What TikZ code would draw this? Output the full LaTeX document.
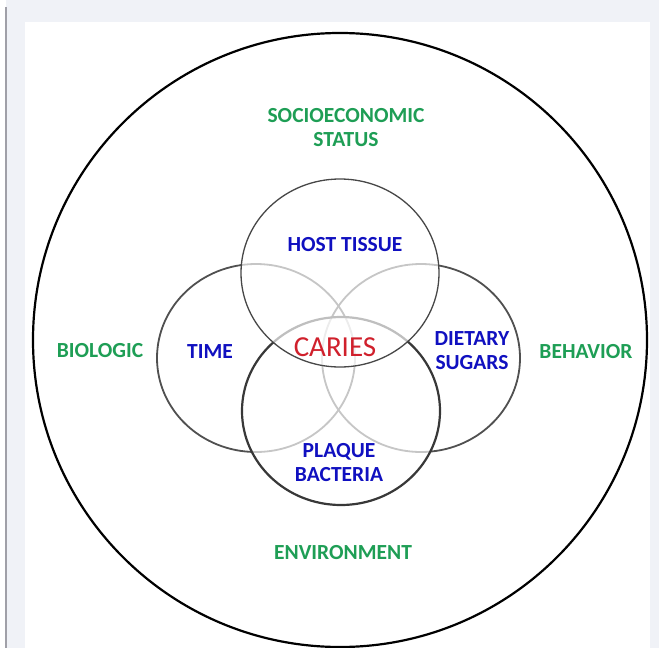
\documentclass[tikz,border=0pt]{standalone}
\usepackage{fontspec}
\setmainfont{Carlito}
\usetikzlibrary{shapes.geometric}
\definecolor{panelgray}{HTML}{F0F2F7}
\definecolor{edgegray}{HTML}{A0A0A8}
\definecolor{factorgreen}{HTML}{1E9E55}
\definecolor{factorblue}{HTML}{1010C0}
\definecolor{cariesred}{HTML}{D0202C}
\definecolor{ringgray}{HTML}{505050}
\begin{document}
\begin{tikzpicture}[x=1pt,y=-1pt,
  outerring/.style={circle,draw=black,line width=2.2pt,minimum size=614pt,inner sep=0pt},
  factorring/.style={ellipse,minimum width=198pt,minimum height=188pt,inner sep=0pt},
  sidering/.style={factorring,draw=ringgray,line width=1.8pt},
  veilring/.style={factorring,fill=white,fill opacity=0.68},
  greenlabel/.style={font=\bfseries\fontsize{21.5}{24}\selectfont,text=factorgreen,align=center},
  bluelabel/.style={font=\bfseries\fontsize{21.5}{24}\selectfont,text=factorblue,align=center},
  cariestext/.style={font=\fontsize{29}{32}\selectfont,text=cariesred}]
  \useasboundingbox (0,0) rectangle (659,648);
  % page frame
  \fill[panelgray] (6,0) rectangle (659,648);
  \draw[edgegray,line width=1.2pt] (6,7) -- (6,648);
  \fill[white] (25,22) rectangle (650,648);
  % surrounding factors ring
  \node[outerring] (outer) at (340,340) {};
  % the four overlapping factors
  \node[sidering] (time) at (256,358) {};
  \node[sidering] (sugars) at (421,358) {};
  \node[veilring,draw=black!78,line width=2.2pt] (plaque) at (341,411) {};
  \node[veilring,draw=black!72,line width=1.3pt] (host) at (340,273) {};
  % labels
  \node[greenlabel] (socio) at (346,128) {SOCIOECONOMIC\\STATUS};
  \node[greenlabel] (biologic) at (100,351) {BIOLOGIC};
  \node[greenlabel] (behavior) at (586,352) {BEHAVIOR};
  \node[greenlabel] (environment) at (343,553) {ENVIRONMENT};
  \node[bluelabel] (hostlabel) at (345,245) {HOST TISSUE};
  \node[bluelabel] (timelabel) at (210,352) {TIME};
  \node[bluelabel] (sugarlabel) at (472,351) {DIETARY\\SUGARS};
  \node[bluelabel] (plaquelabel) at (339,463) {PLAQUE\\BACTERIA};
  \node[cariestext] (caries) at (335,347) {CARIES};
\end{tikzpicture}
\end{document}
